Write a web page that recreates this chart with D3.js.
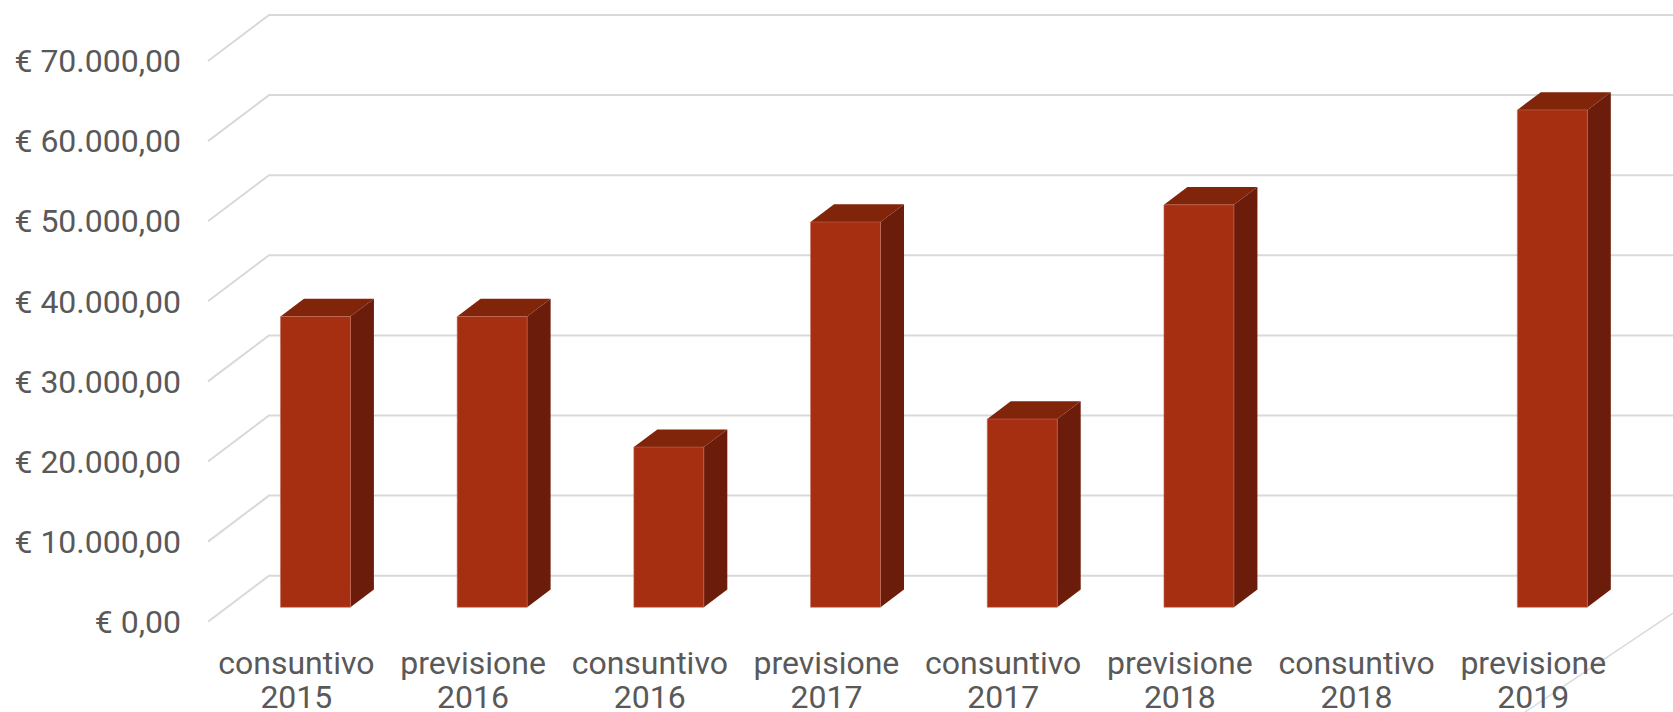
<!DOCTYPE html>
<html>
<head>
<meta charset="utf-8">
<script src="https://cdn.jsdelivr.net/npm/d3@7"></script>
<style>
  html, body { margin: 0; padding: 0; background: #ffffff; }
  svg { display: block; }
</style>
</head>
<body>
<div id="chart"></div>
<script>
  // data
  var categories = ['consuntivo 2015', 'previsione 2016', 'consuntivo 2016', 'previsione 2017',
                    'consuntivo 2017', 'previsione 2018', 'consuntivo 2018', 'previsione 2019'];
  var values = [36300, 36300, 20000, 48100, 23500, 50250, 0, 62100];
  var yTicks = [0, 10000, 20000, 30000, 40000, 50000, 60000, 70000];

  var width = 1673, height = 712;
  var depthX = 61, depthY = 46;          // full depth of the floor, front -> back wall
  var barFront = 0.313, barBack = 0.698; // where the columns sit in that depth
  var frontLeft = 208, frontRight = 1621.6;

  var itFormat = d3.formatLocale({decimal: ',', thousands: '.', grouping: [3], currency: ['€ ', '']}).format('$,.2f');

  var x = d3.scaleBand().domain(categories).range([frontLeft, frontRight])
    .paddingInner(0.604).paddingOuter(0.302);
  var y = d3.scaleLinear().domain([0, 70000]).range([621.7, 61]);

  // oblique projection: front-plane x, value, depth (0 = front, 1 = back)
  var p = function(xf, v, t) {
    return [xf + t * depthX, y(v) - t * depthY];
  };

  var svg = d3.select('#chart').append('svg')
    .attr('width', width).attr('height', height)
    .attr('viewBox', '0 0 ' + width + ' ' + height);

  var grid = svg.append('g').attr('fill', 'none').attr('stroke', '#d9d9d9').attr('stroke-width', 2);

  yTicks.forEach(function(v) {
    var a = p(frontLeft, v, 0), b = p(frontLeft, v, 1);
    grid.append('path').attr('d', 'M' + a + 'L' + b + 'L' + width + ',' + b[1]);
  });

  // right floor edge, runs off the bottom/right of the picture
  var re0 = p(frontRight, 0, 0);
  grid.append('line')
    .attr('x1', 1525).attr('y1', height)
    .attr('x2', width).attr('y2', 613)
    .attr('stroke-width', 1.5);

  // y axis labels
  svg.append('g').selectAll('text').data(yTicks).enter().append('text')
    .attr('x', 181).attr('y', function(d) { return y(d); })
    .attr('dy', '0.35em')
    .attr('text-anchor', 'end')
    .text(function(d) { return itFormat(d); });

  // columns
  var poly = function(pts) { return 'M' + pts.join('L') + 'Z'; };
  var bars = svg.append('g').selectAll('g')
    .data(values.map(function(v, i) { return {c: categories[i], v: v}; }).filter(function(d) { return d.v > 0; }))
    .enter().append('g');

  bars.append('path').attr('fill', '#6b1c0a').attr('d', function(d) {
    var x1 = x(d.c) + x.bandwidth();
    return poly([p(x1, 0, barFront), p(x1, d.v, barFront), p(x1, d.v, barBack), p(x1, 0, barBack)]);
  });
  bars.append('path').attr('fill', '#80240a').attr('d', function(d) {
    var x0 = x(d.c), x1 = x0 + x.bandwidth();
    return poly([p(x0, d.v, barFront), p(x1, d.v, barFront), p(x1, d.v, barBack), p(x0, d.v, barBack)]);
  });
  bars.append('path').attr('fill', '#a62e11')
    .attr('stroke', '#c8705c').attr('stroke-width', 0.8).attr('stroke-opacity', 0.7)
    .attr('d', function(d) {
      var x0 = x(d.c), x1 = x0 + x.bandwidth();
      return poly([p(x0, 0, barFront), p(x1, 0, barFront), p(x1, d.v, barFront), p(x0, d.v, barFront)]);
    });

  // category labels, two lines each
  var cat = svg.append('g').selectAll('text').data(categories).enter().append('text')
    .attr('text-anchor', 'middle')
    .attr('transform', function(d) { return 'translate(' + (x(d) + x.bandwidth() / 2) + ',0)'; });
  cat.append('tspan').attr('x', 0).attr('y', 663).attr('dy', '0.35em').text(function(d) { return d.split(' ')[0]; });
  cat.append('tspan').attr('x', 0).attr('y', 697).attr('dy', '0.35em').text(function(d) { return d.split(' ')[1]; });

  d3.selectAll('text').attr('font-size', 32).attr('font-family', 'Roboto').attr('fill', '#595959');
</script>
</body>
</html>
